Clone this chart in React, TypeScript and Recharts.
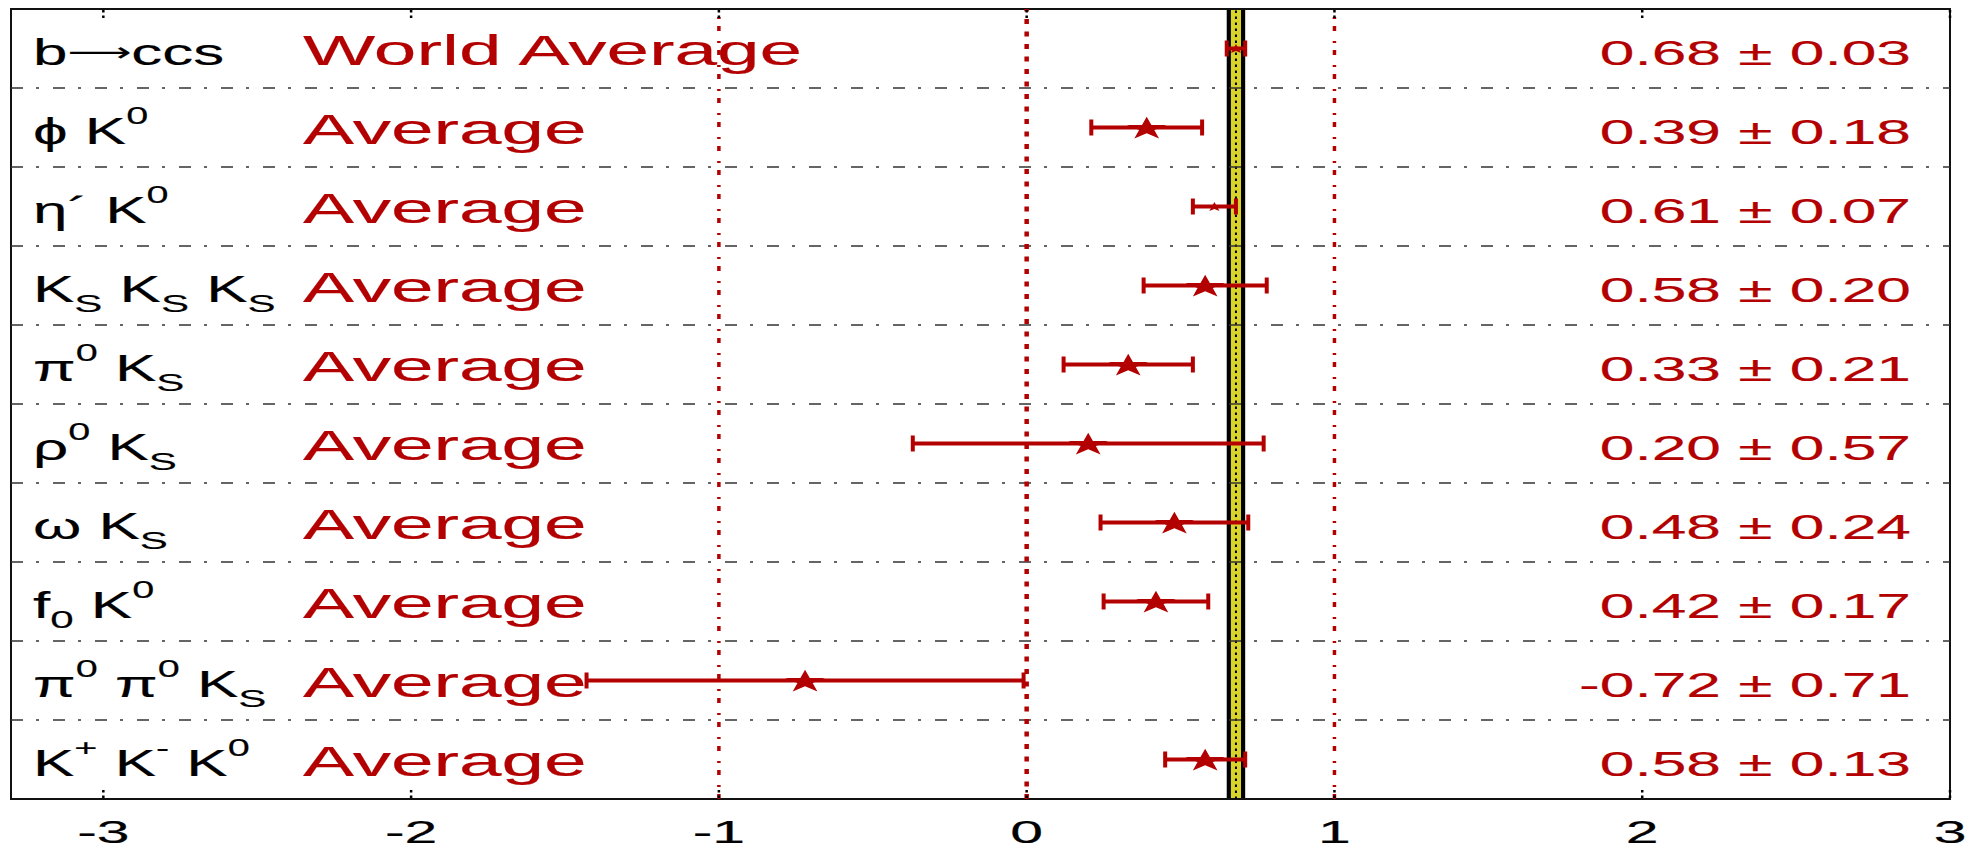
import React from 'react';
import {
  ScatterChart,
  Scatter,
  XAxis,
  YAxis,
  ErrorBar,
  ReferenceLine,
  ReferenceArea,
} from 'recharts';

// sin(2beta_eff) per b -> s penguin mode, ROOT-style labels (^{} sup, _{} sub)
const decayModes = [
  'b⟶ccs',
  'ϕ K^{0}',
  'η´ K^{0}',
  'K_{S} K_{S} K_{S}',
  'π^{0} K_{S}',
  'ρ^{0} K_{S}',
  'ω K_{S}',
  'f_{0} K^{0}',
  'π^{0} π^{0} K_{S}',
  'K^{+} K^{-} K^{0}',
];
const averageLabels = [
  'World Average',
  'Average',
  'Average',
  'Average',
  'Average',
  'Average',
  'Average',
  'Average',
  'Average',
  'Average',
];
const sinValues = [0.68, 0.39, 0.61, 0.58, 0.33, 0.2, 0.48, 0.42, -0.72, 0.58];
const sinErrors = [0.03, 0.18, 0.07, 0.2, 0.21, 0.57, 0.24, 0.17, 0.71, 0.13];
const xTicks = [-3, -2, -1, 0, 1, 2, 3];
const xDomain = [-3.3, 3];
const guideLines = [-1, 0, 1];

const RED = '#b30000';
const YELLOW = '#d9d42c';
const FONT = '"Liberation Sans", Arial, Helvetica, sans-serif';
const WIDTH = 1980;
const HEIGHT = 851;
const MARGIN = { top: 9, right: 30, bottom: 0, left: 11 };

const rows = decayModes.map((name, i) => ({
  name,
  method: averageLabels[i],
  value: sinValues[i],
  err: sinErrors[i],
  row: i + 0.5,
}));
const worldAvg = rows[0];

// turns "K^{0}" / "K_{S}" into shifted tspans; the long arrow is set smaller in DejaVu
const renderRich = (label: string, size: number) => {
  const parts = label.split(/([_^]\{[^}]*\}|⟶)/).filter(Boolean);
  let shift = 0;
  return parts.map((p, k) => {
    let target = 0;
    let text = p;
    let fs = size;
    let family: string | undefined;
    if (p.startsWith('^{')) {
      target = -0.53 * size;
      text = p.slice(2, -1);
      fs = 0.64 * size;
    } else if (p.startsWith('_{')) {
      target = 0.3 * size;
      text = p.slice(2, -1);
      fs = 0.68 * size;
    } else if (p === '⟶') {
      target = -0.1 * size;
      fs = 0.72 * size;
      family = '"DejaVu Sans"';
    }
    const dy = target - shift;
    shift = target;
    return (
      <tspan key={k} dy={dy} fontSize={fs} fontFamily={family}>
        {text}
      </tspan>
    );
  });
};

const RowLabels = (props: any) => {
  const { cy, payload } = props;
  const base = cy + 16;
  return (
    <g fontFamily={FONT}>
      <g transform={`translate(33,${base}) scale(1.72,1)`}>
        <text fill="#000" stroke="#000" strokeWidth={0.15} fontSize={36}>
          {renderRich(payload.name, 36)}
        </text>
      </g>
      <g transform={`translate(303,${base}) scale(1.78,1)`}>
        <text fill={RED} stroke={RED} strokeWidth={0.15} fontSize={43}>
          {payload.method}
        </text>
      </g>
      <g transform={`translate(1911,${base}) scale(1.78,1)`}>
        <text fill={RED} stroke={RED} strokeWidth={0.15} fontSize={35} textAnchor="end">
          {`${payload.value.toFixed(2)} ± ${payload.err.toFixed(2)}`}
        </text>
      </g>
    </g>
  );
};

const StarMarker = (props: any) => {
  const { cx, cy, payload } = props;
  const r = payload.err < 0.1 ? 5 : 12;
  const pts: string[] = [];
  for (let k = 0; k < 10; k++) {
    const a = -Math.PI / 2 + (k * Math.PI) / 5;
    const rr = k % 2 === 0 ? r : r * 0.38;
    pts.push(`${cx + 1.75 * rr * Math.cos(a)},${cy + r * 0.1 + rr * Math.sin(a)}`);
  }
  return <polygon points={pts.join(' ')} fill={RED} />;
};

const AxisTick = (props: any) => {
  const { x, y, payload } = props;
  return (
    <g>
      <line x1={x} x2={x} y1={y - 9} y2={y - 1} stroke="#000" strokeWidth={2.5} strokeDasharray="2.5 3" />
      <line x1={x} x2={x} y1={MARGIN.top + 1} y2={MARGIN.top + 9} stroke="#000" strokeWidth={2.5} strokeDasharray="2.5 3" />
      <g transform={`translate(${x},${y + 44}) scale(1.9,1)`}>
        <text textAnchor="middle" fontSize={31} fontFamily={FONT} fill="#000" stroke="#000" strokeWidth={0.2}>
          {payload.value}
        </text>
      </g>
    </g>
  );
};

const App: React.FC = () => {
  return (
    <div style={{ position: 'absolute', left: 0, top: 0, width: WIDTH, height: HEIGHT, background: '#fff' }}>
      <ScatterChart width={WIDTH} height={HEIGHT} margin={MARGIN}>
        <XAxis
          type="number"
          dataKey="value"
          domain={xDomain}
          ticks={xTicks}
          interval={0}
          allowDataOverflow
          axisLine={false}
          tickLine={false}
          tickSize={0}
          tickMargin={0}
          height={52}
          tick={<AxisTick />}
        />
        <YAxis type="number" dataKey="row" domain={[0, rows.length]} reversed hide />

        {/* world average band */}
        <ReferenceArea x1={worldAvg.value - worldAvg.err} x2={worldAvg.value + worldAvg.err} fill="#000" fillOpacity={1} />
        <ReferenceArea
          x1={worldAvg.value - worldAvg.err * 0.55}
          x2={worldAvg.value + worldAvg.err * 0.55}
          fill={YELLOW}
          fillOpacity={1}
        />
        <ReferenceLine x={worldAvg.value} stroke="#000" strokeWidth={2} strokeDasharray="2.5 3.5" />

        {rows.slice(1).map((_, i) => (
          <ReferenceLine key={`sep-${i}`} y={i + 1} stroke="#333" strokeWidth={1.5} strokeDasharray="12 13 3 14" />
        ))}

        {guideLines.map((v) => (
          <ReferenceLine
            key={`guide-${v}`}
            x={v}
            stroke={RED}
            strokeWidth={v === 0 ? 4.5 : 3.5}
            strokeDasharray={v === 0 ? '5 7.5' : '5 7 2 10'}
          />
        ))}

        <ReferenceArea
          x1={xDomain[0]}
          x2={xDomain[1]}
          y1={0}
          y2={rows.length}
          fill="none"
          stroke="#111"
          strokeWidth={2}
        />

        <Scatter data={rows} shape={<RowLabels />} isAnimationActive={false} />
        <Scatter data={rows} shape={<StarMarker />} isAnimationActive={false}>
          <ErrorBar dataKey="err" direction="x" width={8} stroke={RED} strokeWidth={4} />
        </Scatter>
      </ScatterChart>
    </div>
  );
};

export default App;
